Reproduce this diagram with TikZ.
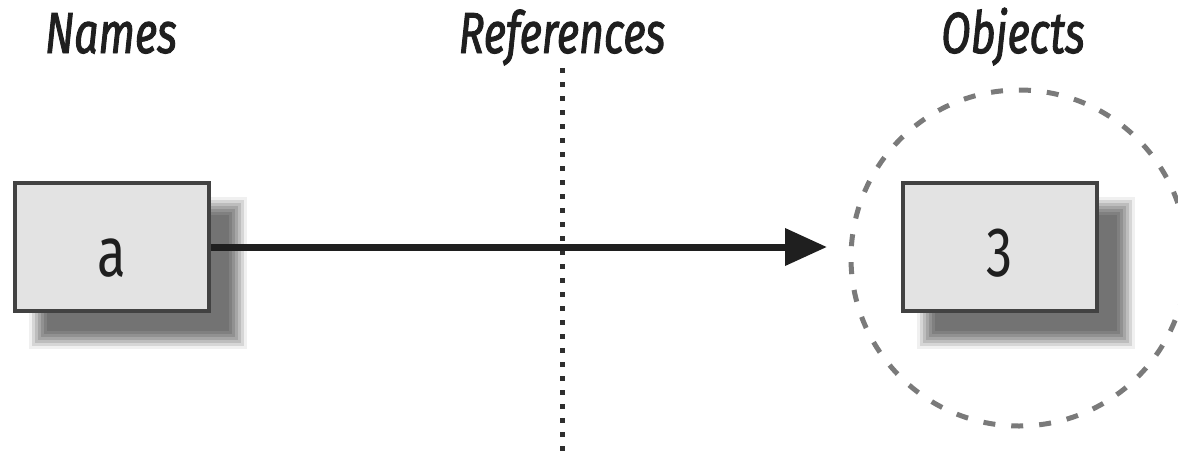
\documentclass[tikz,border=0pt]{standalone}
\usepackage{fontspec}
\setmainfont{Fira Sans}[FakeStretch=0.75]
\newfontfamily\headfont{Fira Sans}[FakeStretch=0.74, FakeBold=1.6]
\usetikzlibrary{arrows.meta,backgrounds,calc}
\begin{document}
\begin{tikzpicture}[x=1pt,y=-1pt,
  box/.style={draw=black!74, line width=4pt, fill=black!11, minimum width=194pt,
    minimum height=128pt, inner sep=0pt, text height=58pt, text depth=0pt,
    font=\fontsize{70}{70}\selectfont, text=black!88},
  heading/.style={anchor=base, font=\headfont\itshape\fontsize{58}{58}\selectfont, text=black!88},
  conn/.style={line width=7pt, draw=black!88, -{Triangle[length=42pt,width=36pt]}},
  divider/.style={draw=black!82, line width=5pt, dash pattern=on 5pt off 9pt},
  ring/.style={draw=black!52, line width=5pt, dash pattern=on 12pt off 16pt,
    circle, minimum size=336pt, inner sep=0pt}]
\useasboundingbox (0,0) rectangle (1178,453);
\clip (0,0) rectangle (1178,453);
% headings
\node[heading] (names) at (111,53) {Names};
\node[heading] (refs) at (562,53) {References};
\node[heading] (objs) at (1013,53) {Objects};
% divider
\coordinate (dtop) at (562,68);
\coordinate (dbot) at (562,460);
\draw[divider] (dtop) -- (dbot);
% ring
\node[ring] (obj) at (1019,258) {};
% boxes
\node[box] (a) at (112,247) {a};
\node[box] (three) at (999.5,247) {3};
% shadows
\begin{pgfonlayer}{background}
\foreach \n in {a,three} {
  \foreach \e/\c in {10/6,7/16,4/26,1/35,-2/43,-5/50,-8/55} {
    \fill[black!\c] ($(\n.north west)+(26-\e,26-\e)$) rectangle ($(\n.south east)+(26+\e,26+\e)$);
  }
}
\end{pgfonlayer}
% connector
\coordinate (tip) at (827,247);
\draw[conn] (a.east) -- (tip);
\end{tikzpicture}
\end{document}
